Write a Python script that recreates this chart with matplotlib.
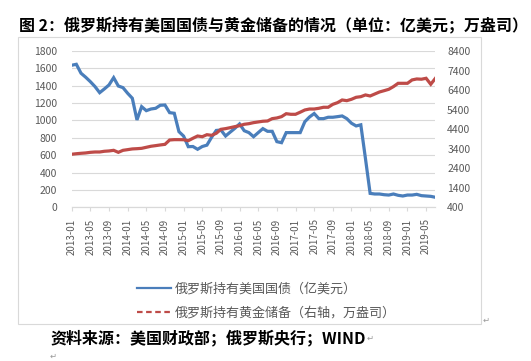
import pandas as pd
import matplotlib.pyplot as plt
import numpy as np
from matplotlib.lines import Line2D
from matplotlib.patches import Rectangle

# ============ Dataset ============
months = pd.period_range('2013-01', '2019-07', freq='M').strftime('%Y-%m').tolist()

# US treasuries held by Russia (亿美元, left axis)
treasury = [1636, 1647, 1544, 1498, 1447, 1390, 1320, 1363, 1409, 1493, 1397, 1378,
            1313, 1256, 1006, 1159, 1113, 1132, 1140, 1175, 1178, 1090, 1083, 871,
            820, 698, 700, 668, 700, 716, 806, 885, 890, 821, 866, 910,
            960, 882, 860, 813, 860, 906, 875, 875, 756, 744, 860, 860,
            860, 860, 986, 1040, 1080, 1021, 1021, 1037, 1037, 1044, 1052, 1021,
            968, 937, 950, 560, 160, 153, 153, 145, 141, 153, 138, 130,
            141, 141, 149, 134, 130, 126, 115]

# gold reserves (万盎司, right axis)
gold = [3116, 3142, 3164, 3182, 3213, 3231, 3231, 3267, 3284, 3316, 3213, 3316,
        3351, 3387, 3400, 3418, 3471, 3524, 3556, 3591, 3622, 3844, 3862, 3862,
        3858, 3809, 3933, 4049, 4013, 4116, 4084, 4187, 4391, 4427, 4476, 4529,
        4578, 4649, 4680, 4733, 4769, 4804, 4818, 4938, 4973, 5040, 5191, 5160,
        5160, 5267, 5382, 5431, 5431, 5467, 5520, 5520, 5671, 5756, 5893, 5858,
        5929, 6031, 6062, 6151, 6098, 6200, 6302, 6369, 6440, 6578, 6747, 6747,
        6747, 6920, 6969, 6956, 7004, 6698, 7004]

title = '图 2：俄罗斯持有美国国债与黄金储备的情况（单位：亿美元；万盎司）'
label_treasury = '俄罗斯持有美国国债（亿美元）'
label_gold = '俄罗斯持有黄金储备（右轴，万盎司）'
source = '资料来源：美国财政部；俄罗斯央行；WIND'

plt.rcParams['font.family'] = ['Noto Sans CJK SC', 'DejaVu Sans']

BLUE = '#4a7ebb'
RED = '#be4b48'
GRID = '#d9d9d9'
TXT = '#595959'

# ============ Figure & Axes ============
fig = plt.figure(figsize=(5.31, 3.61), dpi=100)
ax = fig.add_axes([0.135, 0.4258, 0.685, 0.4329])
ax2 = ax.twinx()

x = np.arange(len(months))
ax.plot(x, treasury, color=BLUE, lw=2.3, solid_joinstyle='miter', zorder=3)
ax2.plot(x, gold, color=RED, lw=2.3, solid_joinstyle='miter', zorder=3)

ax.set_xlim(0, len(months) - 1)
ax.set_ylim(0, 1800)
ax.set_yticks(np.arange(0, 1801, 200))
ax2.set_ylim(400, 8400)
ax2.set_yticks(np.arange(400, 8401, 1000))

ax.set_xticks(x[::4])
ax.set_xticklabels(months[::4], rotation=90, fontsize=7, color=TXT)
ax.tick_params(axis='x', length=3, color=GRID, width=0.8, pad=5)
ax.tick_params(axis='y', length=0, pad=10.5, labelsize=7.5, labelcolor=TXT)
ax2.tick_params(axis='y', length=0, pad=8.5, labelsize=7.5, labelcolor=TXT)

ax.grid(axis='y', color=GRID, lw=0.8)
ax.set_axisbelow(True)
for a in (ax, ax2):
    for s in ('top', 'left', 'right'):
        a.spines[s].set_visible(False)
    a.spines['bottom'].set_color(GRID)
    a.spines['bottom'].set_linewidth(0.8)

# ============ Chart frame ============
fig.patches.append(Rectangle((18 / 531, 1 - 324 / 361), 463 / 531, 287 / 361,
                             transform=fig.transFigure, fill=False,
                             edgecolor=GRID, lw=0.8))

# ============ Legend ============
handles = [Line2D([], [], color=BLUE, lw=1.6),
           Line2D([], [], color=RED, lw=1.6, ls=(0, (2.5, 1.6)))]
fig.legend(handles, [label_treasury, label_gold], loc='upper left',
           bbox_to_anchor=(125 / 531, 1 - 271 / 361), frameon=False,
           fontsize=9.4, labelcolor=TXT, handlelength=2.6, handletextpad=0.3,
           labelspacing=0.85)

# ============ Title & Source ============
fig.text(19 / 531, 1 - 25 / 361, title, fontsize=11.5, fontweight='bold',
         va='center', ha='left')
fig.text(50 / 531, 1 - 338 / 361, source, fontsize=11.5, fontweight='bold',
         va='center', ha='left')
fig.text(483 / 531, 1 - 320 / 361, '↵', fontsize=6, color='#999999',
         va='center', ha='left', family='DejaVu Sans')
fig.text(367 / 531, 1 - 338 / 361, '↵', fontsize=6, color='#999999',
         va='center', ha='left', family='DejaVu Sans')
fig.text(50 / 531, 1 - 356 / 361, '↵', fontsize=6, color='#999999',
         va='center', ha='left', family='DejaVu Sans')

fig.savefig('out.png', dpi=100)
